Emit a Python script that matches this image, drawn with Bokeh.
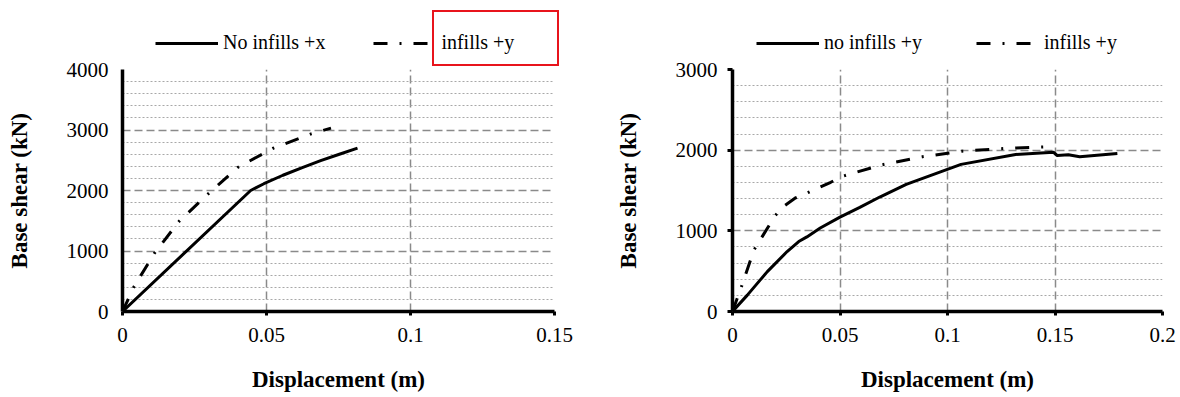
from bokeh.plotting import figure
from bokeh.layouts import row, column
from bokeh.models import Range1d, FixedTicker, Legend, LegendItem
from bokeh.embed import file_html
from bokeh.resources import INLINE

# ---------------- data ----------------
# Left chart
left_x_ticks = [0, 0.05, 0.1, 0.15]
left_x_labels = ["0", "0.05", "0.1", "0.15"]
left_y_ticks = [0, 1000, 2000, 3000, 4000]
left_y_labels = ["0", "1000", "2000", "3000", "4000"]

left_noinf_x = [0, 0.0445, 0.0491, 0.0557, 0.0622, 0.0688, 0.0753, 0.0816]
left_noinf_y = [0, 2000, 2112, 2252, 2375, 2493, 2599, 2700]
left_inf_x = [0, 0.0039, 0.0111, 0.0197, 0.0295, 0.0400, 0.0524, 0.0655, 0.0724]
left_inf_y = [0, 402, 964, 1493, 1933, 2381, 2700, 2936, 3031]

# Right chart
right_x_ticks = [0, 0.05, 0.1, 0.15, 0.2]
right_x_labels = ["0", "0.05", "0.1", "0.15", "0.2"]
right_y_ticks = [0, 1000, 2000, 3000]
right_y_labels = ["0", "1000", "2000", "3000"]

right_noinf_x = [0, 0.0069, 0.0162, 0.0254, 0.0308, 0.0346, 0.0408, 0.05, 0.0592,
                 0.0685, 0.0808, 0.1063, 0.1317, 0.1492, 0.151, 0.1562, 0.1615, 0.179]
right_noinf_y = [0, 203, 494, 743, 867, 925, 1035, 1170, 1290,
                 1419, 1575, 1824, 1947, 1975, 1934, 1943, 1918, 1959]
right_inf_x = [0, 0.0040, 0.0100, 0.0197, 0.0238, 0.0292, 0.0346, 0.0457, 0.0512,
               0.0692, 0.0883, 0.1068, 0.1264, 0.1448, 0.147]
right_inf_y = [0, 295, 763, 1183, 1303, 1407, 1469, 1602, 1676,
               1817, 1918, 1988, 2020, 2041, 2030]

left_names = ["No infills +x", "infills +y"]
right_names = ["no infills +y", "infills +y"]

FONT = "Liberation Serif"
DASHDOT = "14 12 2 12"
LEG_H = 58


def make_plot(xmax, ymax, xt, xl, yt, yl, minor_step, sx, sy, dx, dy,
              borders, ytick_out):
    bl, br, bt, bb = borders
    p = figure(width=590, height=397 - LEG_H, output_backend="svg", toolbar_location=None,
               x_range=Range1d(0, xmax), y_range=Range1d(0, ymax),
               min_border_left=bl, min_border_right=br, min_border_top=bt,
               min_border_bottom=bb)
    p.outline_line_color = None
    p.background_fill_color = "white"
    p.border_fill_color = "white"

    minor = [v for v in range(0, int(ymax) + 1, minor_step) if v not in yt]
    p.xaxis.ticker = FixedTicker(ticks=xt)
    p.yaxis.ticker = FixedTicker(ticks=yt, minor_ticks=minor)
    p.xaxis.major_label_overrides = {t: l for t, l in zip(xt, xl)}
    p.yaxis.major_label_overrides = {t: l for t, l in zip(yt, yl)}

    for ax in (p.xaxis, p.yaxis):
        ax.axis_line_width = 3.5
        ax.axis_line_color = "black"
        ax.major_tick_line_width = 3
        ax.major_tick_line_color = "black"
        ax.major_tick_in = 0
        ax.minor_tick_line_color = None
        ax.major_label_text_font = FONT
        ax.major_label_text_font_size = "21px"
        ax.major_label_text_color = "black"
        ax.axis_label_text_font = FONT
        ax.axis_label_text_font_style = "bold"
        ax.axis_label_text_font_size = "23px"
        ax.axis_label_text_color = "black"
    p.xaxis.major_tick_out = 4
    p.yaxis.major_tick_out = ytick_out
    p.xaxis.major_label_standoff = 12
    p.yaxis.major_label_standoff = 10
    p.xaxis.axis_label = "Displacement (m)"
    p.yaxis.axis_label = "Base shear (kN)"
    p.xaxis.axis_label_standoff = 22
    p.yaxis.axis_label_standoff = 32

    p.xgrid.grid_line_color = "#8a8a8a"
    p.xgrid.grid_line_dash = "8 4"
    p.xgrid.grid_line_width = 1.5
    p.ygrid.grid_line_color = "#8a8a8a"
    p.ygrid.grid_line_dash = "8 4"
    p.ygrid.grid_line_width = 1.5
    p.ygrid.minor_grid_line_color = "#a8a8a8"
    p.ygrid.minor_grid_line_dash = "2 2"
    p.ygrid.minor_grid_line_width = 1

    p.line(sx, sy, line_color="black", line_width=3)
    p.line(dx, dy, line_color="black", line_width=3, line_dash=DASHDOT)
    return p


def make_legend_fig(names, sx, sy, dx, dy, loc, spacing, css=None):
    kw = {}
    if css:
        kw["stylesheets"] = [css]
    # legend strip: same series drawn again, but its ranges keep them out of view,
    # so only the legend (samples + labels) shows
    f = figure(width=590, height=LEG_H, output_backend="svg", toolbar_location=None,
               x_axis_type=None, y_axis_type=None, min_border=0,
               x_range=Range1d(-2, -1), y_range=Range1d(-2, -1), **kw)
    f.outline_line_color = None
    f.background_fill_color = "white"
    f.border_fill_color = "white"
    r1 = f.line(sx, sy, line_color="black", line_width=3)
    r2 = f.line(dx, dy, line_color="black", line_width=3, line_dash=DASHDOT)
    legend = Legend(items=[LegendItem(label=names[0], renderers=[r1]),
                           LegendItem(label=names[1], renderers=[r2])],
                    location=loc, orientation="horizontal",
                    padding=0, margin=0, spacing=spacing,
                    glyph_width=63, glyph_height=20, label_standoff=5,
                    label_text_font=FONT, label_text_font_size="20px",
                    label_text_color="black",
                    border_line_color=None, background_fill_alpha=0)
    f.add_layout(legend, "center")
    return f


# red highlight frame drawn around the second legend entry of the left chart
BOX_CSS = (":host::after { content: ''; position: absolute; left: 432px; top: 10px; "
           "width: 127px; height: 56px; box-sizing: border-box; "
           "border: 2px solid #e8141c; z-index: 10; pointer-events: none; }")

L1 = make_legend_fig(left_names, left_noinf_x, left_noinf_y, left_inf_x, left_inf_y,
                     (155, 4), 48, css=BOX_CSS)
L2 = make_legend_fig(right_names, right_noinf_x, right_noinf_y, right_inf_x, right_inf_y,
                     (166, 4), 54)

p1 = make_plot(0.15, 4000, left_x_ticks, left_x_labels, left_y_ticks, left_y_labels,
               200, left_noinf_x, left_noinf_y, left_inf_x, left_inf_y,
               (122, 36, 69 - LEG_H, 86), 0)
p2 = make_plot(0.2, 3000, right_x_ticks, right_x_labels, right_y_ticks, right_y_labels,
               200, right_noinf_x, right_noinf_y, right_inf_x, right_inf_y,
               (142, 18, 69 - LEG_H, 85), 5)

layout = column(row(L1, L2), row(p1, p2))
open("out.html", "w").write(file_html(layout, INLINE))
